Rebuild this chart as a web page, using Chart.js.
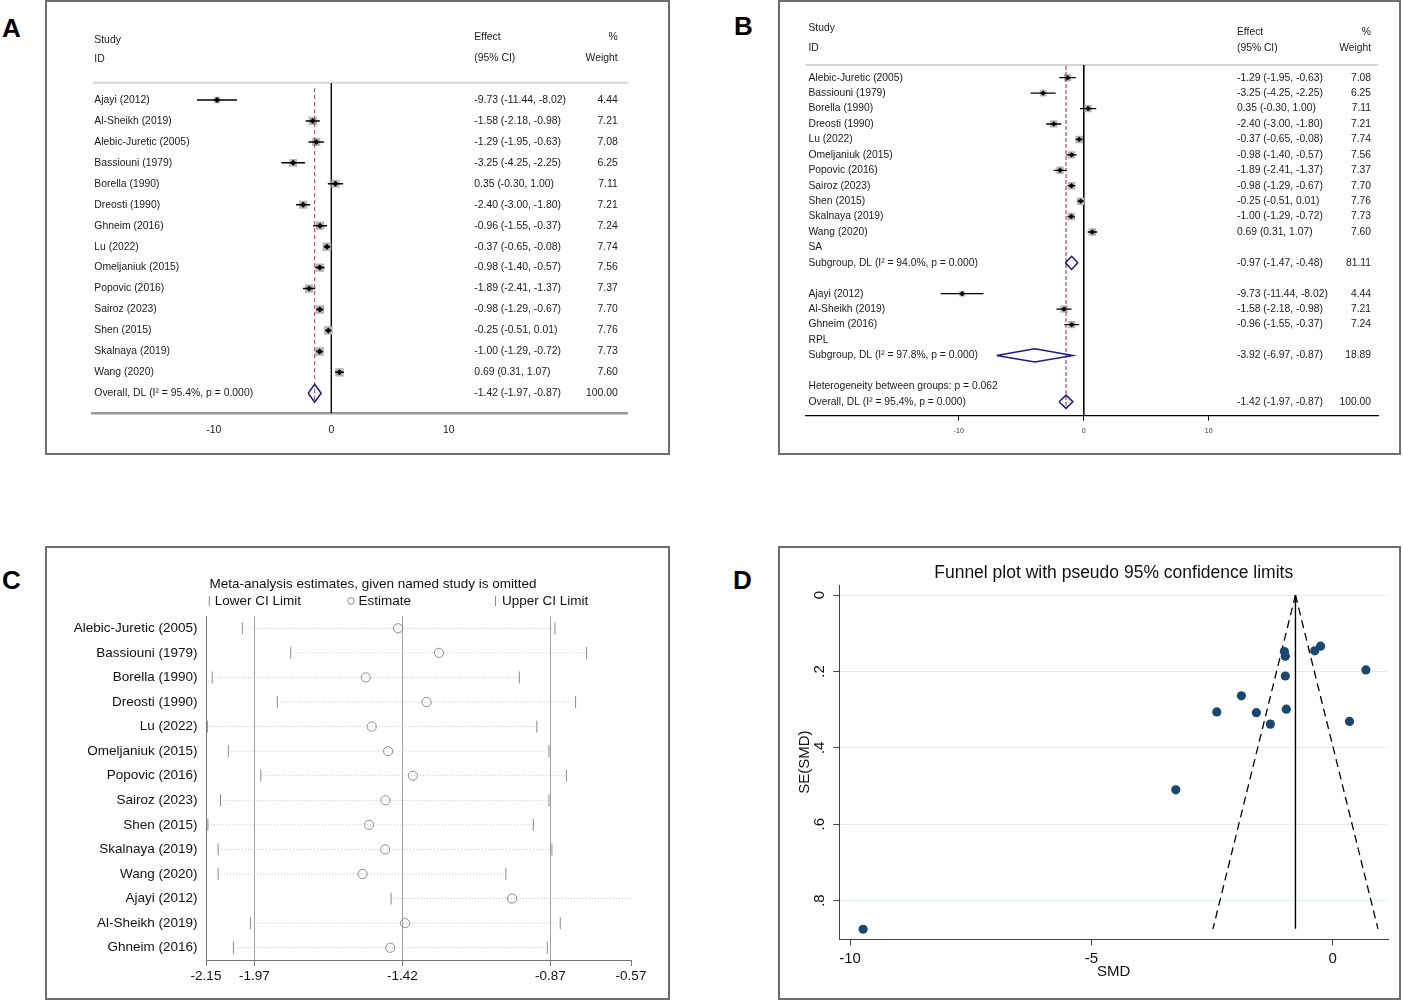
<!DOCTYPE html>
<html>
<head>
<meta charset="utf-8">
<script src="https://cdn.jsdelivr.net/npm/chart.js@4.4.1/dist/chart.umd.min.js"></script>
<style>
html,body{margin:0;padding:0;background:#fff;}
body{width:1403px;height:1001px;position:relative;overflow:hidden;font-family:'Liberation Sans',Arial,sans-serif;}
.panel{position:absolute;box-sizing:border-box;border:2px solid #6e6e6e;background:#fff;}
.panel canvas{position:absolute;left:0;top:0;}
.tag{position:absolute;font-weight:bold;font-size:26px;line-height:26px;color:#000;}
</style>
</head>
<body>
<div class="tag" style="left:2px;top:14.6px">A</div>
<div class="tag" style="left:734px;top:12.6px">B</div>
<div class="tag" style="left:2px;top:567px">C</div>
<div class="tag" style="left:733px;top:566.6px">D</div>

<div class="panel" style="left:45px;top:0;width:625px;height:455px"><canvas id="cA" width="621" height="451"></canvas></div>
<div class="panel" style="left:778px;top:0;width:623px;height:455px"><canvas id="cB" width="619" height="451"></canvas></div>
<div class="panel" style="left:45px;top:546px;width:625px;height:454px"><canvas id="cC" width="621" height="450"></canvas></div>
<div class="panel" style="left:778px;top:546px;width:623px;height:454px"><canvas id="cD" width="619" height="450"></canvas></div>

<script>
// ================= DATA =================
const studies = ['Ajayi (2012)', 'Al-Sheikh (2019)', 'Alebic-Juretic (2005)', 'Bassiouni (1979)', 'Borella (1990)',
  'Dreosti (1990)', 'Ghneim (2016)', 'Lu (2022)', 'Omeljaniuk (2015)', 'Popovic (2016)', 'Sairoz (2023)',
  'Shen (2015)', 'Skalnaya (2019)', 'Wang (2020)'];
const smd     = [-9.73, -1.58, -1.29, -3.25, 0.35, -2.40, -0.96, -0.37, -0.98, -1.89, -0.98, -0.25, -1.00, 0.69];
const ciLow   = [-11.44, -2.18, -1.95, -4.25, -0.30, -3.00, -1.55, -0.65, -1.40, -2.41, -1.29, -0.51, -1.29, 0.31];
const ciHigh  = [-8.02, -0.98, -0.63, -2.25, 1.00, -1.80, -0.37, -0.08, -0.57, -1.37, -0.67, 0.01, -0.72, 1.07];
const weights = [4.44, 7.21, 7.08, 6.25, 7.11, 7.21, 7.24, 7.74, 7.56, 7.37, 7.70, 7.76, 7.73, 7.60];
const studyGroup = ['RPL', 'RPL', 'SA', 'SA', 'SA', 'SA', 'RPL', 'SA', 'SA', 'SA', 'SA', 'SA', 'SA', 'SA'];
const groupNames = ['SA', 'RPL'];

// pooled estimates: SA subgroup, RPL subgroup, Overall
const pooledEst    = [-0.97, -3.92, -1.42];
const pooledLow    = [-1.47, -6.97, -1.97];
const pooledHigh   = [-0.48, -0.87, -0.87];
const pooledWeight = [81.11, 18.89, 100.00];
const pooledI2     = [94.0, 97.8, 95.4];
const pooledP      = ['0.000', '0.000', '0.000'];
const heterogeneityP = '0.062';

const forestTicks = [-10, 0, 10];
const forestTickLabels = ['-10', '0', '10'];

// leave-one-out sensitivity (panel C)
const looStudies = ['Alebic-Juretic (2005)', 'Bassiouni (1979)', 'Borella (1990)', 'Dreosti (1990)', 'Lu (2022)',
  'Omeljaniuk (2015)', 'Popovic (2016)', 'Sairoz (2023)', 'Shen (2015)', 'Skalnaya (2019)', 'Wang (2020)',
  'Ajayi (2012)', 'Al-Sheikh (2019)', 'Ghneim (2016)'];
const looEst  = [-1.436, -1.284, -1.556, -1.330, -1.534, -1.473, -1.381, -1.483, -1.544, -1.484, -1.568, -1.012, -1.410, -1.465];
const looLow  = [-2.015, -1.835, -2.127, -1.885, -2.145, -2.067, -1.946, -2.096, -2.143, -2.105, -2.105, -1.462, -1.985, -2.048];
const looHigh = [-0.853, -0.735, -0.985, -0.776, -0.920, -0.875, -0.810, -0.875, -0.933, -0.864, -1.035, -0.563, -0.833, -0.881];
const looTicks = [-2.15, -1.97, -1.42, -0.87, -0.57];
const looTickLabels = ['-2.15', '-1.97', '-1.42', '-0.87', '-0.57'];
const looRefLines = [-1.97, -1.42, -0.87];
const looTitle = 'Meta-analysis estimates, given named study is omitted';

// funnel plot (panel D), SE per study in `studies` order
const funnelSE = [0.875, 0.308, 0.338, 0.510, 0.331, 0.306, 0.299, 0.146, 0.212, 0.264, 0.160, 0.134, 0.148, 0.196];
const funnelCenter = -0.77;
const funnelSEMax = 0.874;
const funnelLowerEnd = -2.48;
const funnelUpperEnd = 0.94;
const funnelXTicks = [-10, -5, 0];
const funnelXTickLabels = ['-10', '-5', '0'];
const funnelYTicks = [0, 0.2, 0.4, 0.6, 0.8];
const funnelYTickLabels = ['0', '.2', '.4', '.6', '.8'];
const funnelTitle = 'Funnel plot with pseudo 95% confidence limits';

// ================= CHARTS =================
const FONT = "'Liberation Sans', Arial, sans-serif";
Chart.defaults.font.family = FONT;
Chart.defaults.color = '#111';

const f2 = v => v.toFixed(2);
const studyRow = i => ({kind: 'study', label: studies[i], est: smd[i], lo: ciLow[i], hi: ciHigh[i], w: weights[i]});
const pooledRow = (k, label) => ({kind: 'pooled', label, est: pooledEst[k], lo: pooledLow[k], hi: pooledHigh[k], w: pooledWeight[k]});
const i2Text = k => `(I\u00B2 = ${pooledI2[k].toFixed(1)}%, p = ${pooledP[k]})`;

const rowsA = studies.map((s, i) => studyRow(i));
rowsA.push(pooledRow(2, 'Overall, DL ' + i2Text(2)));

const rowsB = [];
groupNames.forEach((g, gi) => {
  studies.forEach((s, i) => { if (studyGroup[i] === g) rowsB.push(studyRow(i)); });
  rowsB.push({kind: 'text', label: g});
  rowsB.push(pooledRow(gi, 'Subgroup, DL ' + i2Text(gi)));
  rowsB.push({kind: 'blank'});
});
rowsB.push({kind: 'text', label: 'Heterogeneity between groups: p = ' + heterogeneityP});
rowsB.push(pooledRow(2, 'Overall, DL ' + i2Text(2)));

function forest(id, rows, cfg) {
  const boxes = [], boxR = [], dots = [], ci = [], dia = [];
  rows.forEach((r, i) => {
    if (r.kind === 'study') {
      boxes.push({x: r.est, y: i});
      boxR.push(cfg.boxR * Math.sqrt(r.w / 7.7));
      dots.push({x: r.est, y: i});
      ci.push({x: r.lo, y: i}, {x: r.hi, y: i}, {x: NaN, y: NaN});
    } else if (r.kind === 'pooled') {
      dia.push({x: r.lo, y: i}, {x: r.est, y: i - cfg.dh}, {x: r.hi, y: i}, {x: r.est, y: i + cfg.dh}, {x: r.lo, y: i}, {x: NaN, y: NaN});
    }
  });
  const overall = rows[rows.length - 1];
  const line = (label, data, color, width, dash, order) => ({label, data, showLine: true, borderColor: color,
    borderWidth: width, borderDash: dash || [], pointRadius: 0, order, spanGaps: false, borderJoinStyle: 'miter'});

  const tablePlugin = {
    id: 'table_' + id,
    afterDraw(chart) {
      const {ctx, scales: {y}} = chart;
      ctx.save();
      ctx.fillStyle = '#1a1a1a';
      ctx.font = `${cfg.fs}px ${FONT}`;
      ctx.textBaseline = 'middle';
      const put = (t, x, row, align) => { ctx.textAlign = align; ctx.fillText(t, x, y.getPixelForValue(row)); };
      cfg.header.forEach(h => put(h[0], cfg.cols[h[1]], h[2], h[1] === 'w' ? 'right' : 'left'));
      rows.forEach((r, i) => {
        if (r.label) put(r.label, cfg.cols.label, i, 'left');
        if (r.kind === 'study' || r.kind === 'pooled') {
          put(`${f2(r.est)} (${f2(r.lo)}, ${f2(r.hi)})`, cfg.cols.eff, i, 'left');
          put(f2(r.w), cfg.cols.w, i, 'right');
        }
      });
      ctx.restore();
    }
  };

  return new Chart(document.getElementById(id), {
    type: 'scatter',
    data: {datasets: [
      {label: 'weight box', data: boxes, pointStyle: 'rect', pointRadius: boxR, backgroundColor: cfg.boxColor, borderWidth: 0, order: 6},
      line('95% CI', ci, '#000', cfg.ciW, null, 4),
      {label: 'effect', data: dots, pointStyle: 'rectRot', pointRadius: cfg.dotR, backgroundColor: '#000', borderWidth: 0, order: 1},
      line('pooled', dia, cfg.diaColor, 1.5, null, 2),
      line('no effect', [{x: 0, y: cfg.zero[0]}, {x: 0, y: cfg.zero[1]}], '#000', 1, null, 7),
      line('overall effect', [{x: overall.est, y: cfg.red[0]}, {x: overall.est, y: cfg.red[1]}], cfg.redColor, 1, cfg.redDash, 3),
      line('header rule', [{x: cfg.xmin, y: cfg.sep}, {x: cfg.xmax, y: cfg.sep}], '#d4d4d4', 2, null, 8)
    ]},
    options: {
      responsive: false, animation: false, events: [],
      layout: {padding: cfg.pad},
      plugins: {legend: {display: false}, tooltip: {enabled: false}},
      scales: {
        x: {type: 'linear', min: cfg.xmin, max: cfg.xmax,
          afterBuildTicks: s => { s.ticks = forestTicks.map(v => ({value: v})); },
          afterFit: s => { s.height = cfg.xH; },
          grid: {display: cfg.tickLen > 0, drawOnChartArea: false, drawTicks: cfg.tickLen > 0, tickLength: cfg.tickLen, color: cfg.axisColor},
          border: {display: true, color: cfg.axisColor, width: cfg.axisW},
          ticks: {callback: (v, i) => forestTickLabels[i], font: {size: cfg.tickFs}, color: cfg.tickColor,
            padding: cfg.tickPad, autoSkip: false, maxRotation: 0, minRotation: 0}},
        y: {type: 'linear', display: false, reverse: true, min: cfg.ymin, max: cfg.ymax}
      }
    },
    plugins: [tablePlugin]
  });
}

// Panel A (canvas origin page 47,2)
forest('cA', rowsA, {
  pad: {left: 45.7, top: 8, right: 40.2, bottom: 0}, xH: 39.7,
  xmin: -20.31, xmax: 25.23, ymin: -4.296, ymax: 14.955,
  cols: {label: 47.3, eff: 427.3, w: 570.7},
  header: [['Study', 'label', -2.864], ['ID', 'label', -1.943], ['Effect', 'eff', -3.021], ['(95% CI)', 'eff', -1.99],
           ['%', 'w', -3.021], ['Weight', 'w', -1.99]],
  sep: -0.826, zero: [-0.8, 14.955], red: [-0.57, 14.45], dh: 0.43,
  fs: 10.4, tickFs: 10.4, tickPad: 11, tickLen: 0, tickColor: '#222', axisColor: '#9a9a9a', axisW: 2.5,
  boxR: 6.0, dotR: 3, ciW: 1.5, boxColor: '#b4b4b4', diaColor: '#1c1c82', redColor: '#b03a55', redDash: [4, 3]
});

// Panel B (canvas origin page 780,2)
forest('cB', rowsB, {
  pad: {left: 25.5, top: 6, right: 20.6, bottom: 0}, xH: 37.3,
  xmin: -22.26, xmax: 23.57, ymin: -4.517, ymax: 21.905,
  cols: {label: 28.5, eff: 457, w: 591},
  header: [['Study', 'label', -3.20], ['ID', 'label', -1.944], ['Effect', 'eff', -2.98], ['(95% CI)', 'eff', -1.944],
           ['%', 'w', -2.98], ['Weight', 'w', -1.944]],
  sep: -0.823, zero: [-0.82, 21.905], red: [-0.76, 21.4], dh: 0.43,
  fs: 10.3, tickFs: 7, tickPad: 6, tickLen: 5, tickColor: '#333', axisColor: '#000', axisW: 1.2,
  boxR: 5.3, dotR: 2.7, ciW: 1.3, boxColor: '#b4b4b4', diaColor: '#1c1c82', redColor: '#b8202c', redDash: [4, 2]
});

// Panel C (canvas origin page 47,548)
const looDotted = [];
looStudies.forEach((s, i) => looDotted.push({x: looLow[i], y: s}, {x: looHigh[i], y: s}, {x: null, y: null}));
const looDecor = {
  id: 'looDecor',
  afterDraw(chart) {
    const ctx = chart.ctx;
    const ds = chart.data.datasets;
    ctx.save();
    ctx.fillStyle = '#111';
    ctx.font = `13.5px ${FONT}`;
    ctx.textBaseline = 'middle';
    ctx.textAlign = 'center';
    ctx.fillText(looTitle, 326, 36);
    ctx.textAlign = 'left';
    const ly = 53;
    ctx.strokeStyle = '#8c8c8c';
    ctx.lineWidth = 1;
    [161.8, 448].forEach(x => { ctx.beginPath(); ctx.moveTo(x + 0.5, ly - 5); ctx.lineTo(x + 0.5, ly + 5); ctx.stroke(); });
    ctx.beginPath(); ctx.arc(304, ly, 3.3, 0, 2 * Math.PI); ctx.stroke();
    ctx.fillText(ds[1].label, 167.8, ly);
    ctx.fillText(ds[2].label, 311.4, ly);
    ctx.fillText(ds[3].label, 455, ly);
    ctx.restore();
  }
};
new Chart(document.getElementById('cC'), {
  type: 'scatter',
  data: {datasets: [
    {label: 'interval', data: looDotted, showLine: true, spanGaps: false, borderColor: '#c2c2c2', borderDash: [1, 2], borderWidth: 1, pointRadius: 0, order: 4},
    {label: 'Lower CI Limit', data: looStudies.map((s, i) => ({x: looLow[i], y: s})), pointStyle: 'line', rotation: 90, pointRadius: 6, borderColor: '#8c8c8c', borderWidth: 1, order: 2},
    {label: 'Estimate', data: looStudies.map((s, i) => ({x: looEst[i], y: s})), pointStyle: 'circle', pointRadius: 4.6, borderColor: '#8c8c8c', backgroundColor: 'rgba(0,0,0,0)', borderWidth: 1, order: 1},
    {label: 'Upper CI Limit', data: looStudies.map((s, i) => ({x: looHigh[i], y: s})), pointStyle: 'line', rotation: 90, pointRadius: 6, borderColor: '#8c8c8c', borderWidth: 1, order: 3}
  ]},
  options: {
    responsive: false, animation: false, events: [],
    layout: {padding: {left: 0, top: 68, right: 37, bottom: 0}},
    plugins: {legend: {display: false}, tooltip: {enabled: false}},
    scales: {
      x: {type: 'linear', min: -2.15, max: -0.57,
        afterBuildTicks: s => { s.ticks = looTicks.map(v => ({value: v})); },
        afterFit: s => { s.height = 38; },
        grid: {display: true, drawOnChartArea: true, drawTicks: true, tickLength: 6,
          color: c => (c.tick && looRefLines.includes(c.tick.value)) ? '#a0a0a0' : 'rgba(0,0,0,0)', tickColor: '#777'},
        border: {display: true, color: '#777', width: 1},
        ticks: {callback: (v, i) => looTickLabels[i], font: {size: 13.5}, color: '#111', padding: 2, autoSkip: false, maxRotation: 0, minRotation: 0}},
      y: {type: 'category', labels: looStudies, offset: true,
        afterFit: s => { s.width = 159; },
        grid: {display: false, drawTicks: false},
        border: {display: true, color: '#777', width: 1},
        ticks: {font: {size: 13.5}, color: '#111', padding: 8.5, autoSkip: false}}
    }
  },
  plugins: [looDecor]
});

// Panel D (canvas origin page 780,548)
const funnelDecor = {
  id: 'funnelDecor',
  afterDraw(chart) {
    const {ctx, chartArea} = chart;
    ctx.save();
    ctx.fillStyle = '#111';
    ctx.font = `17.5px ${FONT}`;
    ctx.textBaseline = 'middle';
    ctx.textAlign = 'center';
    ctx.fillText(funnelTitle, (chartArea.left + chartArea.right) / 2, 25);
    ctx.restore();
  }
};
new Chart(document.getElementById('cD'), {
  type: 'scatter',
  data: {datasets: [
    {label: 'Studies', data: studies.map((s, i) => ({x: smd[i], y: funnelSE[i]})), pointRadius: 4.6, backgroundColor: '#1a476f', borderWidth: 0, order: 1},
    {label: 'Pooled', data: [{x: funnelCenter, y: 0}, {x: funnelCenter, y: funnelSEMax}], showLine: true, borderColor: '#000', borderWidth: 1.4, pointRadius: 0, order: 2},
    {label: 'Lower pseudo 95% limit', data: [{x: funnelCenter, y: 0}, {x: funnelLowerEnd, y: funnelSEMax}], showLine: true, borderColor: '#000', borderWidth: 1.3, borderDash: [8, 5], pointRadius: 0, order: 3},
    {label: 'Upper pseudo 95% limit', data: [{x: funnelCenter, y: 0}, {x: funnelUpperEnd, y: funnelSEMax}], showLine: true, borderColor: '#000', borderWidth: 1.3, borderDash: [8, 5], pointRadius: 0, order: 3}
  ]},
  options: {
    responsive: false, animation: false, events: [],
    layout: {padding: {left: 0, top: 37, right: 11, bottom: 0}},
    plugins: {legend: {display: false}, tooltip: {enabled: false}},
    scales: {
      x: {type: 'linear', min: -10.222, max: 1.148,
        afterBuildTicks: s => { s.ticks = funnelXTicks.map(v => ({value: v})); },
        afterFit: s => { s.height = 58.7; },
        grid: {display: true, drawOnChartArea: false, drawTicks: true, tickLength: 6, color: '#444'},
        border: {display: true, color: '#444', width: 1},
        ticks: {callback: (v, i) => funnelXTickLabels[i], font: {size: 15}, color: '#111', padding: 4.7, autoSkip: false, maxRotation: 0, minRotation: 0},
        title: {display: true, text: 'SMD', font: {size: 15}, color: '#111', padding: {top: 0, bottom: 17}}},
      y: {type: 'linear', reverse: true, min: -0.0262, max: 0.9013,
        afterBuildTicks: s => { s.ticks = funnelYTicks.map(v => ({value: v})); },
        afterFit: s => { s.width = 59.4; },
        grid: {display: true, drawOnChartArea: true, drawTicks: true, tickLength: 6, color: '#e3eef0', tickColor: '#444'},
        border: {display: true, color: '#444', width: 1},
        ticks: {callback: (v, i) => funnelYTickLabels[i], font: {size: 15}, color: '#111', padding: 7.15, autoSkip: false,
          minRotation: 90, maxRotation: 90, crossAlign: 'center'},
        title: {display: true, text: 'SE(SMD)', font: {size: 15}, color: '#111', padding: {top: 16, bottom: 0}}}
    }
  },
  plugins: [funnelDecor]
});
</script>
</body>
</html>
